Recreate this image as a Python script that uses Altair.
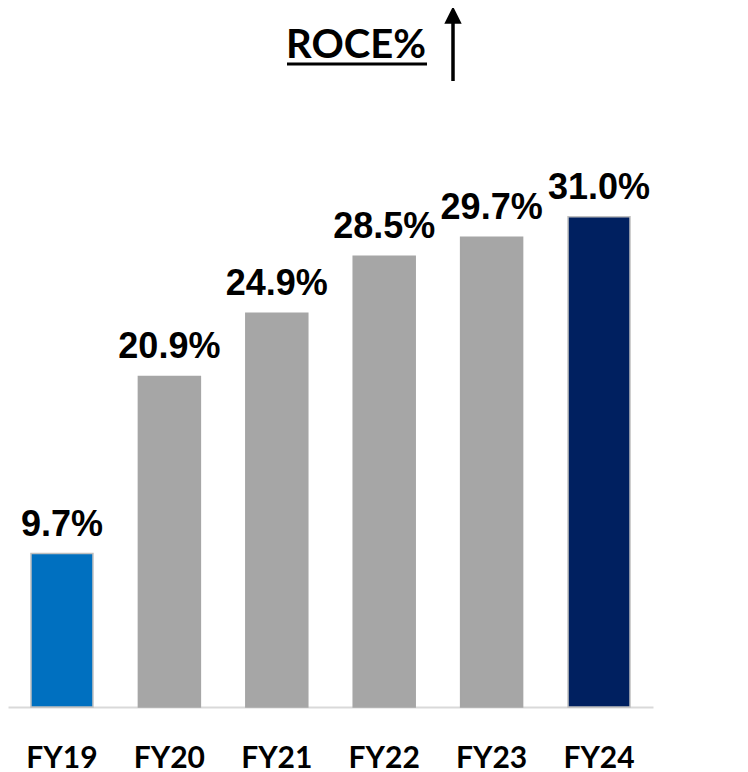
import altair as alt
import pandas as pd

years = ["FY19", "FY20", "FY21", "FY22", "FY23", "FY24"]
roce = [9.7, 20.9, 24.9, 28.5, 29.7, 31.0]
labels = ["9.7%", "20.9%", "24.9%", "28.5%", "29.7%", "31.0%"]
colors = ["#0070C0", "#A6A6A6", "#A6A6A6", "#A6A6A6", "#A6A6A6", "#002060"]
strokes = ["#BFBFBF", "#A6A6A6", "#A6A6A6", "#A6A6A6", "#A6A6A6", "#BFBFBF"]

df = pd.DataFrame({"year": years, "roce": roce, "label": labels,
                   "color": colors, "stroke": strokes})

W, H = 645, 699

x = alt.X("year:N", sort=years, title=None,
          scale=alt.Scale(paddingInner=0.423, paddingOuter=0.214),
          axis=alt.Axis(labelAngle=0, ticks=False, domainColor="#D9D9D9",
                        domainWidth=2, labelFont="Lato", labelFontWeight="bold",
                        labelFontSize=30, labelColor="#000000",
                        labelBaseline="alphabetic", labelPadding=60))
y = alt.Y("roce:Q", title=None, scale=alt.Scale(domain=[0, 44.2], nice=False),
          axis=None)

base = alt.Chart(df)

bars = base.mark_bar(strokeWidth=1.5).encode(
    x=x, y=y,
    color=alt.Color("color:N", scale=None),
    stroke=alt.Stroke("stroke:N", scale=None),
)

text = base.mark_text(font="Liberation Sans", fontWeight="bold", fontSize=36,
                      baseline="alphabetic", dy=-18, color="#000000").encode(
    x=alt.X("year:N", sort=years), y="roce:Q", text="label:N")

title_df = pd.DataFrame({"t": ["ROCE%"]})
title = alt.Chart(title_df).mark_text(font="Lato", fontWeight="bold", fontSize=40,
                                      baseline="alphabetic", align="center",
                                      color="#000000").encode(
    text="t:N", x=alt.value(348), y=alt.value(50))

underline = alt.Chart(title_df).mark_rule(color="#000000", strokeWidth=3).encode(
    x=alt.value(279), x2=alt.value(419), y=alt.value(56))

shaft = alt.Chart(title_df).mark_rule(color="#000000", strokeWidth=3.5).encode(
    x=alt.value(445), y=alt.value(12), y2=alt.value(73))

head = alt.Chart(title_df).mark_point(shape="M-1,1L1,1L0,-1Z", filled=True,
                                      size=300, color="#000000", opacity=1).encode(
    x=alt.value(445), y=alt.value(7))

chart = alt.layer(bars, text, title, underline, shaft, head).properties(
    width=W, height=H, autosize="none",
    padding={"left": 0, "top": 0, "right": 87, "bottom": 65},
).configure_view(stroke=None)

chart.save("out.html", embed_options={"renderer": "svg", "actions": False})
